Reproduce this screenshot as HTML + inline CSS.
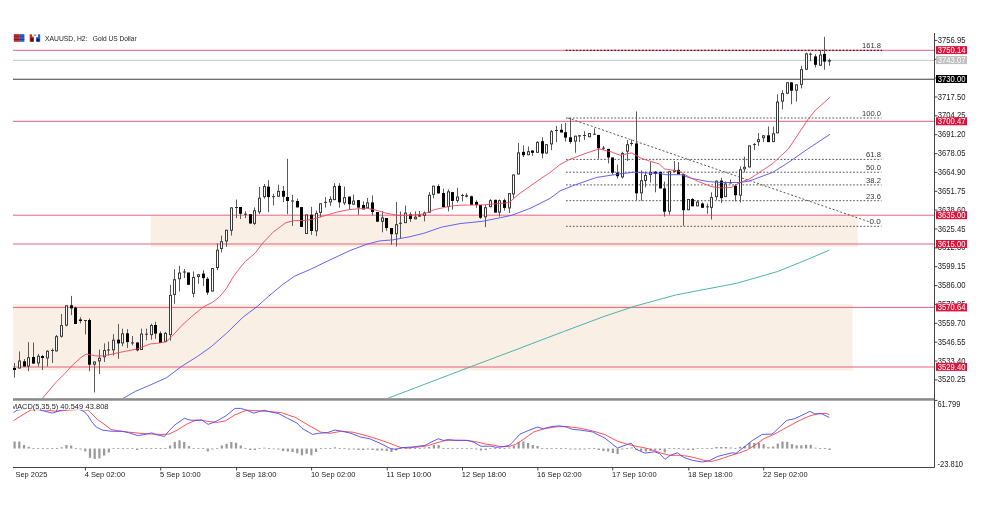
<!DOCTYPE html>
<html><head><meta charset="utf-8"><title>XAUUSD, H2</title>
<style>
html,body{margin:0;padding:0;background:#fff;}
body{width:982px;height:514px;overflow:hidden;position:relative;}
svg{position:absolute;left:0;top:0;display:block;}
text{font-family:'Liberation Sans', Arial, sans-serif;}
</style></head><body>
<svg width="982" height="514" viewBox="0 0 982 514">
<rect x="0" y="0" width="982" height="514" fill="#ffffff"/>

<defs><clipPath id="main"><rect x="13" y="33" width="921.5" height="365"/></clipPath><clipPath id="macdl"><rect x="13" y="400" width="100" height="14"/></clipPath><clipPath id="macd"><rect x="13" y="401" width="921.5" height="66"/></clipPath></defs>
<g clip-path="url(#main)">
<rect x="150.8" y="215.7" width="706.8" height="31.4" fill="#f9efe5"/>
<rect x="13" y="304.2" width="839.6" height="66.3" fill="#f9efe5"/>
<line x1="13" y1="50.3" x2="934.5" y2="50.3" stroke="#e8607e" stroke-width="1" />
<line x1="13" y1="60.3" x2="934.5" y2="60.3" stroke="#c4c4c4" stroke-width="1" />
<line x1="13" y1="79.3" x2="934.5" y2="79.3" stroke="#3c3c3c" stroke-width="1.1" />
<line x1="13" y1="121.3" x2="934.5" y2="121.3" stroke="#e8607e" stroke-width="1" />
<line x1="13" y1="215.2" x2="934.5" y2="215.2" stroke="#e8607e" stroke-width="1" />
<line x1="13" y1="244.0" x2="934.5" y2="244.0" stroke="#e8607e" stroke-width="1" />
<line x1="13" y1="307.4" x2="934.5" y2="307.4" stroke="#e8607e" stroke-width="1" />
<line x1="13" y1="367.0" x2="934.5" y2="367.0" stroke="#e8607e" stroke-width="1" />
<line x1="565.8" y1="50.4" x2="882.0" y2="50.4" stroke="#6a0a25" stroke-width="1.3" stroke-dasharray="1.7,1.76"/>
<text x="862.00" y="48.40" font-size="7.3" fill="#333" textLength="18.90" lengthAdjust="spacingAndGlyphs" >161.8</text>
<line x1="566.0" y1="118.0" x2="881.5" y2="118.0" stroke="#555" stroke-width="1" stroke-dasharray="1.7,1.76"/>
<text x="862.00" y="116.00" font-size="7.3" fill="#333" textLength="18.90" lengthAdjust="spacingAndGlyphs" >100.0</text>
<line x1="566.0" y1="159.4" x2="881.5" y2="159.4" stroke="#555" stroke-width="1" stroke-dasharray="1.7,1.76"/>
<text x="866.10" y="157.37" font-size="7.3" fill="#333" textLength="14.80" lengthAdjust="spacingAndGlyphs" >61.8</text>
<line x1="566.0" y1="172.2" x2="881.5" y2="172.2" stroke="#555" stroke-width="1" stroke-dasharray="1.7,1.76"/>
<text x="866.10" y="170.15" font-size="7.3" fill="#333" textLength="14.80" lengthAdjust="spacingAndGlyphs" >50.0</text>
<line x1="566.0" y1="184.9" x2="881.5" y2="184.9" stroke="#555" stroke-width="1" stroke-dasharray="1.7,1.76"/>
<text x="866.10" y="182.93" font-size="7.3" fill="#333" textLength="14.80" lengthAdjust="spacingAndGlyphs" >38.2</text>
<line x1="566.0" y1="200.7" x2="881.5" y2="200.7" stroke="#555" stroke-width="1" stroke-dasharray="1.7,1.76"/>
<text x="866.10" y="198.74" font-size="7.3" fill="#333" textLength="14.80" lengthAdjust="spacingAndGlyphs" >23.6</text>
<line x1="566.0" y1="226.3" x2="881.5" y2="226.3" stroke="#555" stroke-width="1" stroke-dasharray="1.7,1.76"/>
<text x="869.60" y="224.30" font-size="7.3" fill="#333" textLength="11.30" lengthAdjust="spacingAndGlyphs" >0.0</text>
<line x1="568" y1="118" x2="868.5" y2="221.6" stroke="#555" stroke-width="1" stroke-dasharray="2,2"/>
<rect x="14" y="363.00" width="1" height="14.60" fill="#5a5a5a"/>
<rect x="13" y="368.00" width="3" height="2.00" fill="#000"/>
<rect x="19" y="351.40" width="1" height="17.10" fill="#5a5a5a"/>
<rect x="18" y="360.50" width="3" height="8.00" fill="#3a3a3a"/>
<rect x="19" y="361.50" width="1" height="6.00" fill="#fff"/>
<rect x="24" y="359.00" width="1" height="7.50" fill="#5a5a5a"/>
<rect x="23" y="361.30" width="3" height="5.20" fill="#000"/>
<rect x="28" y="342.20" width="1" height="29.00" fill="#5a5a5a"/>
<rect x="27" y="357.20" width="3" height="9.30" fill="#3a3a3a"/>
<rect x="28" y="358.20" width="1" height="7.30" fill="#fff"/>
<rect x="33" y="342.60" width="1" height="21.00" fill="#5a5a5a"/>
<rect x="32" y="357.00" width="3" height="6.60" fill="#000"/>
<rect x="38" y="353.90" width="1" height="12.60" fill="#5a5a5a"/>
<rect x="37" y="355.80" width="3" height="7.60" fill="#3a3a3a"/>
<rect x="38" y="356.80" width="1" height="5.60" fill="#fff"/>
<rect x="42" y="354.90" width="1" height="15.10" fill="#5a5a5a"/>
<rect x="41" y="356.00" width="3" height="2.00" fill="#000"/>
<rect x="47" y="350.20" width="1" height="16.30" fill="#5a5a5a"/>
<rect x="46" y="350.80" width="3" height="7.60" fill="#3a3a3a"/>
<rect x="47" y="351.80" width="1" height="5.60" fill="#fff"/>
<rect x="52" y="348.40" width="1" height="14.60" fill="#5a5a5a"/>
<rect x="51" y="350.00" width="3" height="1" fill="#333"/>
<rect x="56" y="335.00" width="1" height="16.40" fill="#5a5a5a"/>
<rect x="55" y="336.20" width="3" height="15.20" fill="#3a3a3a"/>
<rect x="56" y="337.20" width="1" height="13.20" fill="#fff"/>
<rect x="61" y="314.00" width="1" height="23.60" fill="#5a5a5a"/>
<rect x="60" y="325.10" width="3" height="11.60" fill="#3a3a3a"/>
<rect x="61" y="326.10" width="1" height="9.60" fill="#fff"/>
<rect x="66" y="305.30" width="1" height="21.10" fill="#5a5a5a"/>
<rect x="65" y="305.30" width="3" height="20.30" fill="#3a3a3a"/>
<rect x="66" y="306.30" width="1" height="18.30" fill="#fff"/>
<rect x="71" y="295.90" width="1" height="19.20" fill="#5a5a5a"/>
<rect x="70" y="305.30" width="3" height="3.10" fill="#000"/>
<rect x="75" y="306.60" width="1" height="17.40" fill="#5a5a5a"/>
<rect x="74" y="307.60" width="3" height="16.40" fill="#000"/>
<rect x="80" y="317.30" width="1" height="6.10" fill="#5a5a5a"/>
<rect x="79" y="319.50" width="3" height="1.50" fill="#000"/>
<rect x="85" y="320.00" width="1" height="14.40" fill="#5a5a5a"/>
<rect x="84" y="320.00" width="3" height="1" fill="#333"/>
<rect x="89" y="318.50" width="1" height="52.70" fill="#5a5a5a"/>
<rect x="88" y="320.00" width="3" height="44.70" fill="#000"/>
<rect x="94" y="361.50" width="1" height="30.90" fill="#5a5a5a"/>
<rect x="93" y="361.50" width="3" height="3.20" fill="#3a3a3a"/>
<rect x="94" y="362.50" width="1" height="1.20" fill="#fff"/>
<rect x="99" y="349.50" width="1" height="24.50" fill="#5a5a5a"/>
<rect x="98" y="357.70" width="3" height="3.70" fill="#3a3a3a"/>
<rect x="99" y="358.70" width="1" height="1.70" fill="#fff"/>
<rect x="104" y="343.40" width="1" height="18.60" fill="#5a5a5a"/>
<rect x="103" y="350.00" width="3" height="7.30" fill="#3a3a3a"/>
<rect x="104" y="351.00" width="1" height="5.30" fill="#fff"/>
<rect x="108" y="341.60" width="1" height="13.90" fill="#5a5a5a"/>
<rect x="107" y="349.50" width="3" height="1" fill="#333"/>
<rect x="113" y="334.20" width="1" height="21.30" fill="#5a5a5a"/>
<rect x="112" y="339.70" width="3" height="10.60" fill="#3a3a3a"/>
<rect x="113" y="340.70" width="1" height="8.60" fill="#fff"/>
<rect x="118" y="324.00" width="1" height="34.80" fill="#5a5a5a"/>
<rect x="117" y="339.70" width="3" height="3.70" fill="#000"/>
<rect x="122" y="328.60" width="1" height="17.60" fill="#5a5a5a"/>
<rect x="121" y="333.30" width="3" height="10.10" fill="#3a3a3a"/>
<rect x="122" y="334.30" width="1" height="8.10" fill="#fff"/>
<rect x="127" y="329.20" width="1" height="18.80" fill="#5a5a5a"/>
<rect x="126" y="333.30" width="3" height="8.80" fill="#000"/>
<rect x="132" y="336.00" width="1" height="9.30" fill="#5a5a5a"/>
<rect x="131" y="342.40" width="3" height="1" fill="#333"/>
<rect x="137" y="342.50" width="1" height="8.90" fill="#5a5a5a"/>
<rect x="136" y="342.50" width="3" height="7.80" fill="#000"/>
<rect x="141" y="328.60" width="1" height="21.40" fill="#5a5a5a"/>
<rect x="140" y="333.60" width="3" height="16.40" fill="#3a3a3a"/>
<rect x="141" y="334.60" width="1" height="14.40" fill="#fff"/>
<rect x="146" y="328.60" width="1" height="11.70" fill="#5a5a5a"/>
<rect x="145" y="333.70" width="3" height="1" fill="#333"/>
<rect x="151" y="323.70" width="1" height="16.00" fill="#5a5a5a"/>
<rect x="150" y="325.00" width="3" height="10.10" fill="#3a3a3a"/>
<rect x="151" y="326.00" width="1" height="8.10" fill="#fff"/>
<rect x="155" y="321.80" width="1" height="17.00" fill="#5a5a5a"/>
<rect x="154" y="325.00" width="3" height="8.60" fill="#000"/>
<rect x="160" y="331.40" width="1" height="11.50" fill="#5a5a5a"/>
<rect x="159" y="333.30" width="3" height="9.60" fill="#000"/>
<rect x="165" y="331.80" width="1" height="10.10" fill="#5a5a5a"/>
<rect x="164" y="332.90" width="3" height="9.00" fill="#3a3a3a"/>
<rect x="165" y="333.90" width="1" height="7.00" fill="#fff"/>
<rect x="170" y="284.80" width="1" height="55.90" fill="#5a5a5a"/>
<rect x="169" y="294.90" width="3" height="40.20" fill="#3a3a3a"/>
<rect x="170" y="295.90" width="1" height="38.20" fill="#fff"/>
<rect x="174" y="269.10" width="1" height="34.70" fill="#5a5a5a"/>
<rect x="173" y="279.20" width="3" height="15.70" fill="#3a3a3a"/>
<rect x="174" y="280.20" width="1" height="13.70" fill="#fff"/>
<rect x="179" y="265.80" width="1" height="25.70" fill="#5a5a5a"/>
<rect x="178" y="272.50" width="3" height="6.70" fill="#3a3a3a"/>
<rect x="179" y="273.50" width="1" height="4.70" fill="#fff"/>
<rect x="184" y="269.00" width="1" height="9.00" fill="#5a5a5a"/>
<rect x="183" y="271.50" width="3" height="1" fill="#333"/>
<rect x="188" y="272.50" width="1" height="12.30" fill="#5a5a5a"/>
<rect x="187" y="272.50" width="3" height="12.30" fill="#000"/>
<rect x="193" y="271.40" width="1" height="25.70" fill="#5a5a5a"/>
<rect x="192" y="277.00" width="3" height="16.80" fill="#3a3a3a"/>
<rect x="193" y="278.00" width="1" height="14.80" fill="#fff"/>
<rect x="198" y="274.00" width="1" height="9.70" fill="#5a5a5a"/>
<rect x="197" y="274.30" width="3" height="2.70" fill="#3a3a3a"/>
<rect x="198" y="275.30" width="1" height="0.70" fill="#fff"/>
<rect x="203" y="270.30" width="1" height="15.60" fill="#5a5a5a"/>
<rect x="202" y="273.60" width="3" height="4.50" fill="#000"/>
<rect x="207" y="277.00" width="1" height="17.90" fill="#5a5a5a"/>
<rect x="206" y="278.80" width="3" height="13.80" fill="#000"/>
<rect x="212" y="268.00" width="1" height="23.50" fill="#5a5a5a"/>
<rect x="211" y="268.00" width="3" height="23.50" fill="#3a3a3a"/>
<rect x="212" y="269.00" width="1" height="21.50" fill="#fff"/>
<rect x="217" y="243.40" width="1" height="26.90" fill="#5a5a5a"/>
<rect x="216" y="249.70" width="3" height="18.30" fill="#3a3a3a"/>
<rect x="217" y="250.70" width="1" height="16.30" fill="#fff"/>
<rect x="221" y="235.60" width="1" height="16.80" fill="#5a5a5a"/>
<rect x="220" y="241.20" width="3" height="7.80" fill="#3a3a3a"/>
<rect x="221" y="242.20" width="1" height="5.80" fill="#fff"/>
<rect x="226" y="229.80" width="1" height="17.00" fill="#5a5a5a"/>
<rect x="225" y="229.80" width="3" height="11.60" fill="#3a3a3a"/>
<rect x="226" y="230.80" width="1" height="9.60" fill="#fff"/>
<rect x="231" y="207.40" width="1" height="28.20" fill="#5a5a5a"/>
<rect x="230" y="207.40" width="3" height="23.30" fill="#3a3a3a"/>
<rect x="231" y="208.40" width="1" height="21.30" fill="#fff"/>
<rect x="236" y="199.60" width="1" height="18.50" fill="#5a5a5a"/>
<rect x="235" y="207.00" width="3" height="1" fill="#333"/>
<rect x="240" y="207.00" width="1" height="12.00" fill="#5a5a5a"/>
<rect x="239" y="207.00" width="3" height="6.80" fill="#000"/>
<rect x="245" y="211.30" width="1" height="6.80" fill="#5a5a5a"/>
<rect x="244" y="213.70" width="3" height="1" fill="#333"/>
<rect x="250" y="214.20" width="1" height="9.30" fill="#5a5a5a"/>
<rect x="249" y="214.20" width="3" height="9.30" fill="#000"/>
<rect x="254" y="207.40" width="1" height="17.60" fill="#5a5a5a"/>
<rect x="253" y="210.30" width="3" height="13.60" fill="#3a3a3a"/>
<rect x="254" y="211.30" width="1" height="11.60" fill="#fff"/>
<rect x="259" y="187.00" width="1" height="27.00" fill="#5a5a5a"/>
<rect x="258" y="197.70" width="3" height="14.60" fill="#3a3a3a"/>
<rect x="259" y="198.70" width="1" height="12.60" fill="#fff"/>
<rect x="264" y="184.00" width="1" height="14.60" fill="#5a5a5a"/>
<rect x="263" y="186.00" width="3" height="11.10" fill="#3a3a3a"/>
<rect x="264" y="187.00" width="1" height="9.10" fill="#fff"/>
<rect x="268" y="180.20" width="1" height="32.10" fill="#5a5a5a"/>
<rect x="267" y="186.60" width="3" height="10.50" fill="#000"/>
<rect x="273" y="193.80" width="1" height="11.60" fill="#5a5a5a"/>
<rect x="272" y="196.20" width="3" height="1" fill="#333"/>
<rect x="278" y="184.60" width="1" height="12.10" fill="#5a5a5a"/>
<rect x="277" y="190.90" width="3" height="5.80" fill="#3a3a3a"/>
<rect x="278" y="191.90" width="1" height="3.80" fill="#fff"/>
<rect x="283" y="186.00" width="1" height="16.10" fill="#5a5a5a"/>
<rect x="282" y="190.90" width="3" height="5.80" fill="#000"/>
<rect x="287" y="158.80" width="1" height="55.40" fill="#5a5a5a"/>
<rect x="286" y="197.00" width="3" height="4.00" fill="#000"/>
<rect x="292" y="194.70" width="1" height="31.20" fill="#5a5a5a"/>
<rect x="291" y="200.50" width="3" height="1" fill="#333"/>
<rect x="297" y="198.60" width="1" height="8.80" fill="#5a5a5a"/>
<rect x="296" y="201.00" width="3" height="6.40" fill="#000"/>
<rect x="301" y="207.10" width="1" height="19.80" fill="#5a5a5a"/>
<rect x="300" y="207.10" width="3" height="19.80" fill="#000"/>
<rect x="306" y="214.50" width="1" height="19.50" fill="#5a5a5a"/>
<rect x="305" y="214.50" width="3" height="19.50" fill="#3a3a3a"/>
<rect x="306" y="215.50" width="1" height="17.50" fill="#fff"/>
<rect x="311" y="206.80" width="1" height="28.00" fill="#5a5a5a"/>
<rect x="310" y="214.70" width="3" height="16.30" fill="#000"/>
<rect x="316" y="210.60" width="1" height="25.60" fill="#5a5a5a"/>
<rect x="315" y="212.90" width="3" height="18.40" fill="#3a3a3a"/>
<rect x="316" y="213.90" width="1" height="16.40" fill="#fff"/>
<rect x="320" y="203.30" width="1" height="14.00" fill="#5a5a5a"/>
<rect x="319" y="203.30" width="3" height="9.60" fill="#3a3a3a"/>
<rect x="320" y="204.30" width="1" height="7.60" fill="#fff"/>
<rect x="325" y="197.10" width="1" height="10.50" fill="#5a5a5a"/>
<rect x="324" y="201.90" width="3" height="1" fill="#333"/>
<rect x="330" y="196.30" width="1" height="9.60" fill="#5a5a5a"/>
<rect x="329" y="198.90" width="3" height="3.50" fill="#3a3a3a"/>
<rect x="330" y="199.90" width="1" height="1.50" fill="#fff"/>
<rect x="334" y="183.10" width="1" height="17.00" fill="#5a5a5a"/>
<rect x="333" y="186.10" width="3" height="14.00" fill="#3a3a3a"/>
<rect x="334" y="187.10" width="1" height="12.00" fill="#fff"/>
<rect x="339" y="183.10" width="1" height="24.50" fill="#5a5a5a"/>
<rect x="338" y="185.80" width="3" height="16.60" fill="#000"/>
<rect x="344" y="186.60" width="1" height="18.40" fill="#5a5a5a"/>
<rect x="343" y="197.10" width="3" height="6.20" fill="#3a3a3a"/>
<rect x="344" y="198.10" width="1" height="4.20" fill="#fff"/>
<rect x="349" y="196.60" width="1" height="12.80" fill="#5a5a5a"/>
<rect x="348" y="196.60" width="3" height="7.60" fill="#000"/>
<rect x="353" y="194.50" width="1" height="10.20" fill="#5a5a5a"/>
<rect x="352" y="200.60" width="3" height="4.10" fill="#3a3a3a"/>
<rect x="353" y="201.60" width="1" height="2.10" fill="#fff"/>
<rect x="358" y="200.10" width="1" height="14.60" fill="#5a5a5a"/>
<rect x="357" y="200.10" width="3" height="7.50" fill="#000"/>
<rect x="363" y="201.50" width="1" height="7.90" fill="#5a5a5a"/>
<rect x="362" y="205.00" width="3" height="4.40" fill="#000"/>
<rect x="367" y="198.00" width="1" height="10.20" fill="#5a5a5a"/>
<rect x="366" y="202.40" width="3" height="5.80" fill="#3a3a3a"/>
<rect x="367" y="203.40" width="1" height="3.80" fill="#fff"/>
<rect x="372" y="195.40" width="1" height="20.10" fill="#5a5a5a"/>
<rect x="371" y="202.40" width="3" height="9.60" fill="#000"/>
<rect x="377" y="212.00" width="1" height="9.70" fill="#5a5a5a"/>
<rect x="376" y="212.00" width="3" height="9.70" fill="#000"/>
<rect x="382" y="211.40" width="1" height="20.90" fill="#5a5a5a"/>
<rect x="381" y="217.40" width="3" height="4.40" fill="#3a3a3a"/>
<rect x="382" y="218.40" width="1" height="2.40" fill="#fff"/>
<rect x="386" y="218.00" width="1" height="12.70" fill="#5a5a5a"/>
<rect x="385" y="218.00" width="3" height="10.00" fill="#000"/>
<rect x="391" y="228.00" width="1" height="16.70" fill="#5a5a5a"/>
<rect x="390" y="228.00" width="3" height="6.20" fill="#000"/>
<rect x="396" y="202.10" width="1" height="44.30" fill="#5a5a5a"/>
<rect x="395" y="224.20" width="3" height="10.00" fill="#3a3a3a"/>
<rect x="396" y="225.20" width="1" height="8.00" fill="#fff"/>
<rect x="400" y="211.40" width="1" height="27.20" fill="#5a5a5a"/>
<rect x="399" y="222.80" width="3" height="1" fill="#333"/>
<rect x="405" y="205.60" width="1" height="17.50" fill="#5a5a5a"/>
<rect x="404" y="212.60" width="3" height="10.50" fill="#3a3a3a"/>
<rect x="405" y="213.60" width="1" height="8.50" fill="#fff"/>
<rect x="410" y="212.30" width="1" height="9.60" fill="#5a5a5a"/>
<rect x="409" y="214.40" width="3" height="4.60" fill="#000"/>
<rect x="415" y="211.40" width="1" height="7.90" fill="#5a5a5a"/>
<rect x="414" y="216.70" width="3" height="2.60" fill="#3a3a3a"/>
<rect x="415" y="217.70" width="1" height="0.60" fill="#fff"/>
<rect x="419" y="210.90" width="1" height="5.60" fill="#5a5a5a"/>
<rect x="418" y="215.50" width="3" height="1.00" fill="#000"/>
<rect x="424" y="211.40" width="1" height="10.00" fill="#5a5a5a"/>
<rect x="423" y="212.60" width="3" height="3.20" fill="#3a3a3a"/>
<rect x="424" y="213.60" width="1" height="1.20" fill="#fff"/>
<rect x="429" y="192.10" width="1" height="20.50" fill="#5a5a5a"/>
<rect x="428" y="194.80" width="3" height="17.80" fill="#3a3a3a"/>
<rect x="429" y="195.80" width="1" height="15.80" fill="#fff"/>
<rect x="433" y="185.70" width="1" height="12.60" fill="#5a5a5a"/>
<rect x="432" y="185.70" width="3" height="9.10" fill="#3a3a3a"/>
<rect x="433" y="186.70" width="1" height="7.10" fill="#fff"/>
<rect x="438" y="184.30" width="1" height="9.10" fill="#5a5a5a"/>
<rect x="437" y="186.00" width="3" height="7.40" fill="#000"/>
<rect x="443" y="188.60" width="1" height="18.40" fill="#5a5a5a"/>
<rect x="442" y="193.00" width="3" height="14.00" fill="#000"/>
<rect x="448" y="189.50" width="1" height="21.90" fill="#5a5a5a"/>
<rect x="447" y="191.30" width="3" height="15.70" fill="#3a3a3a"/>
<rect x="448" y="192.30" width="1" height="13.70" fill="#fff"/>
<rect x="452" y="192.10" width="1" height="17.60" fill="#5a5a5a"/>
<rect x="451" y="192.10" width="3" height="8.80" fill="#000"/>
<rect x="457" y="187.80" width="1" height="14.80" fill="#5a5a5a"/>
<rect x="456" y="196.50" width="3" height="4.40" fill="#3a3a3a"/>
<rect x="457" y="197.50" width="1" height="2.40" fill="#fff"/>
<rect x="462" y="193.80" width="1" height="7.60" fill="#5a5a5a"/>
<rect x="461" y="195.00" width="3" height="1" fill="#333"/>
<rect x="466" y="193.20" width="1" height="4.20" fill="#5a5a5a"/>
<rect x="465" y="195.50" width="3" height="1.00" fill="#000"/>
<rect x="471" y="195.60" width="1" height="9.30" fill="#5a5a5a"/>
<rect x="470" y="196.30" width="3" height="8.60" fill="#000"/>
<rect x="476" y="200.20" width="1" height="7.70" fill="#5a5a5a"/>
<rect x="475" y="201.90" width="3" height="3.00" fill="#000"/>
<rect x="480" y="204.90" width="1" height="14.00" fill="#5a5a5a"/>
<rect x="479" y="204.90" width="3" height="12.80" fill="#000"/>
<rect x="485" y="205.00" width="1" height="22.10" fill="#5a5a5a"/>
<rect x="484" y="207.20" width="3" height="10.10" fill="#3a3a3a"/>
<rect x="485" y="208.20" width="1" height="8.10" fill="#fff"/>
<rect x="490" y="199.10" width="1" height="8.10" fill="#5a5a5a"/>
<rect x="489" y="200.20" width="3" height="7.00" fill="#3a3a3a"/>
<rect x="490" y="201.20" width="1" height="5.00" fill="#fff"/>
<rect x="495" y="199.80" width="1" height="12.80" fill="#5a5a5a"/>
<rect x="494" y="199.80" width="3" height="12.80" fill="#000"/>
<rect x="499" y="199.50" width="1" height="17.10" fill="#5a5a5a"/>
<rect x="498" y="200.20" width="3" height="12.40" fill="#3a3a3a"/>
<rect x="499" y="201.20" width="1" height="10.40" fill="#fff"/>
<rect x="504" y="198.60" width="1" height="12.10" fill="#5a5a5a"/>
<rect x="503" y="200.20" width="3" height="7.70" fill="#000"/>
<rect x="509" y="193.20" width="1" height="19.80" fill="#5a5a5a"/>
<rect x="508" y="193.20" width="3" height="15.20" fill="#3a3a3a"/>
<rect x="509" y="194.20" width="1" height="13.20" fill="#fff"/>
<rect x="513" y="174.50" width="1" height="24.10" fill="#5a5a5a"/>
<rect x="512" y="174.50" width="3" height="19.90" fill="#3a3a3a"/>
<rect x="513" y="175.50" width="1" height="17.90" fill="#fff"/>
<rect x="518" y="143.00" width="1" height="31.50" fill="#5a5a5a"/>
<rect x="517" y="152.40" width="3" height="22.10" fill="#3a3a3a"/>
<rect x="518" y="153.40" width="1" height="20.10" fill="#fff"/>
<rect x="523" y="145.40" width="1" height="11.60" fill="#5a5a5a"/>
<rect x="522" y="151.90" width="3" height="3.30" fill="#000"/>
<rect x="528" y="146.50" width="1" height="8.70" fill="#5a5a5a"/>
<rect x="527" y="151.20" width="3" height="4.00" fill="#3a3a3a"/>
<rect x="528" y="152.20" width="1" height="2.00" fill="#fff"/>
<rect x="532" y="150.50" width="1" height="5.40" fill="#5a5a5a"/>
<rect x="531" y="150.50" width="3" height="2.30" fill="#000"/>
<rect x="537" y="141.20" width="1" height="11.60" fill="#5a5a5a"/>
<rect x="536" y="141.90" width="3" height="10.90" fill="#3a3a3a"/>
<rect x="537" y="142.90" width="1" height="8.90" fill="#fff"/>
<rect x="542" y="137.20" width="1" height="21.00" fill="#5a5a5a"/>
<rect x="541" y="141.20" width="3" height="12.30" fill="#000"/>
<rect x="546" y="144.20" width="1" height="9.30" fill="#5a5a5a"/>
<rect x="545" y="144.20" width="3" height="9.30" fill="#3a3a3a"/>
<rect x="546" y="145.20" width="1" height="7.30" fill="#fff"/>
<rect x="551" y="130.00" width="1" height="20.10" fill="#5a5a5a"/>
<rect x="550" y="131.20" width="3" height="13.20" fill="#3a3a3a"/>
<rect x="551" y="132.20" width="1" height="11.20" fill="#fff"/>
<rect x="556" y="126.00" width="1" height="16.10" fill="#5a5a5a"/>
<rect x="555" y="130.00" width="3" height="1" fill="#333"/>
<rect x="561" y="123.90" width="1" height="8.60" fill="#5a5a5a"/>
<rect x="560" y="129.80" width="3" height="2.70" fill="#000"/>
<rect x="565" y="122.80" width="1" height="18.80" fill="#5a5a5a"/>
<rect x="564" y="132.20" width="3" height="5.40" fill="#000"/>
<rect x="570" y="118.00" width="1" height="25.70" fill="#5a5a5a"/>
<rect x="569" y="137.30" width="3" height="4.60" fill="#000"/>
<rect x="575" y="135.70" width="1" height="17.10" fill="#5a5a5a"/>
<rect x="574" y="135.70" width="3" height="5.90" fill="#3a3a3a"/>
<rect x="575" y="136.70" width="1" height="3.90" fill="#fff"/>
<rect x="579" y="135.20" width="1" height="6.90" fill="#5a5a5a"/>
<rect x="578" y="135.20" width="3" height="1.30" fill="#3a3a3a"/>
<rect x="584" y="131.20" width="1" height="8.80" fill="#5a5a5a"/>
<rect x="583" y="135.00" width="3" height="1" fill="#333"/>
<rect x="589" y="133.00" width="1" height="4.20" fill="#5a5a5a"/>
<rect x="588" y="133.00" width="3" height="4.20" fill="#3a3a3a"/>
<rect x="589" y="134.00" width="1" height="2.20" fill="#fff"/>
<rect x="594" y="128.30" width="1" height="6.40" fill="#5a5a5a"/>
<rect x="593" y="133.70" width="3" height="1" fill="#333"/>
<rect x="598" y="134.90" width="1" height="23.80" fill="#5a5a5a"/>
<rect x="597" y="134.90" width="3" height="13.30" fill="#000"/>
<rect x="603" y="146.00" width="1" height="4.00" fill="#5a5a5a"/>
<rect x="602" y="147.70" width="3" height="1" fill="#333"/>
<rect x="608" y="148.90" width="1" height="14.50" fill="#5a5a5a"/>
<rect x="607" y="148.90" width="3" height="8.60" fill="#000"/>
<rect x="612" y="157.50" width="1" height="17.10" fill="#5a5a5a"/>
<rect x="611" y="157.50" width="3" height="15.20" fill="#000"/>
<rect x="617" y="164.50" width="1" height="14.00" fill="#5a5a5a"/>
<rect x="616" y="172.70" width="3" height="3.50" fill="#000"/>
<rect x="622" y="151.70" width="1" height="26.80" fill="#5a5a5a"/>
<rect x="621" y="152.90" width="3" height="24.50" fill="#3a3a3a"/>
<rect x="622" y="153.90" width="1" height="22.50" fill="#fff"/>
<rect x="627" y="140.00" width="1" height="21.00" fill="#5a5a5a"/>
<rect x="626" y="144.20" width="3" height="7.50" fill="#3a3a3a"/>
<rect x="627" y="145.20" width="1" height="5.50" fill="#fff"/>
<rect x="631" y="139.60" width="1" height="6.20" fill="#5a5a5a"/>
<rect x="630" y="143.00" width="3" height="1" fill="#333"/>
<rect x="636" y="111.50" width="1" height="88.80" fill="#5a5a5a"/>
<rect x="635" y="143.50" width="3" height="49.80" fill="#000"/>
<rect x="641" y="170.40" width="1" height="30.30" fill="#5a5a5a"/>
<rect x="640" y="180.20" width="3" height="13.10" fill="#3a3a3a"/>
<rect x="641" y="181.20" width="1" height="11.10" fill="#fff"/>
<rect x="645" y="171.50" width="1" height="15.90" fill="#5a5a5a"/>
<rect x="644" y="175.00" width="3" height="5.90" fill="#3a3a3a"/>
<rect x="645" y="176.00" width="1" height="3.90" fill="#fff"/>
<rect x="650" y="162.10" width="1" height="20.40" fill="#5a5a5a"/>
<rect x="649" y="171.80" width="3" height="3.30" fill="#3a3a3a"/>
<rect x="650" y="172.80" width="1" height="1.30" fill="#fff"/>
<rect x="655" y="171.00" width="1" height="21.30" fill="#5a5a5a"/>
<rect x="654" y="171.80" width="3" height="2.00" fill="#000"/>
<rect x="660" y="171.80" width="1" height="16.60" fill="#5a5a5a"/>
<rect x="659" y="171.80" width="3" height="16.60" fill="#000"/>
<rect x="664" y="181.60" width="1" height="35.00" fill="#5a5a5a"/>
<rect x="663" y="188.40" width="3" height="23.30" fill="#000"/>
<rect x="669" y="171.20" width="1" height="43.40" fill="#5a5a5a"/>
<rect x="668" y="171.20" width="3" height="40.50" fill="#3a3a3a"/>
<rect x="669" y="172.20" width="1" height="38.50" fill="#fff"/>
<rect x="674" y="161.10" width="1" height="10.70" fill="#5a5a5a"/>
<rect x="673" y="169.90" width="3" height="1.90" fill="#3a3a3a"/>
<rect x="678" y="162.10" width="1" height="12.30" fill="#5a5a5a"/>
<rect x="677" y="169.90" width="3" height="4.50" fill="#000"/>
<rect x="683" y="174.40" width="1" height="51.30" fill="#5a5a5a"/>
<rect x="682" y="174.40" width="3" height="35.80" fill="#000"/>
<rect x="688" y="199.00" width="1" height="11.20" fill="#5a5a5a"/>
<rect x="687" y="199.00" width="3" height="11.20" fill="#3a3a3a"/>
<rect x="688" y="200.00" width="1" height="9.20" fill="#fff"/>
<rect x="692" y="198.00" width="1" height="8.30" fill="#5a5a5a"/>
<rect x="691" y="199.00" width="3" height="7.30" fill="#000"/>
<rect x="697" y="200.00" width="1" height="6.30" fill="#5a5a5a"/>
<rect x="696" y="201.60" width="3" height="4.70" fill="#3a3a3a"/>
<rect x="697" y="202.60" width="1" height="2.70" fill="#fff"/>
<rect x="702" y="202.40" width="1" height="5.40" fill="#5a5a5a"/>
<rect x="701" y="203.50" width="3" height="4.30" fill="#000"/>
<rect x="707" y="203.50" width="1" height="10.20" fill="#5a5a5a"/>
<rect x="706" y="206.30" width="3" height="1" fill="#333"/>
<rect x="711" y="192.30" width="1" height="27.20" fill="#5a5a5a"/>
<rect x="710" y="197.10" width="3" height="10.70" fill="#3a3a3a"/>
<rect x="711" y="198.10" width="1" height="8.70" fill="#fff"/>
<rect x="716" y="180.60" width="1" height="19.40" fill="#5a5a5a"/>
<rect x="715" y="180.60" width="3" height="16.50" fill="#3a3a3a"/>
<rect x="716" y="181.60" width="1" height="14.50" fill="#fff"/>
<rect x="721" y="177.70" width="1" height="25.30" fill="#5a5a5a"/>
<rect x="720" y="180.60" width="3" height="17.50" fill="#000"/>
<rect x="725" y="181.50" width="1" height="15.60" fill="#5a5a5a"/>
<rect x="724" y="183.50" width="3" height="13.60" fill="#3a3a3a"/>
<rect x="725" y="184.50" width="1" height="11.60" fill="#fff"/>
<rect x="730" y="179.60" width="1" height="3.80" fill="#5a5a5a"/>
<rect x="729" y="182.40" width="3" height="1" fill="#333"/>
<rect x="735" y="184.00" width="1" height="17.40" fill="#5a5a5a"/>
<rect x="734" y="185.90" width="3" height="9.30" fill="#000"/>
<rect x="740" y="166.40" width="1" height="36.00" fill="#5a5a5a"/>
<rect x="739" y="169.30" width="3" height="26.30" fill="#3a3a3a"/>
<rect x="740" y="170.30" width="1" height="24.30" fill="#fff"/>
<rect x="744" y="156.70" width="1" height="15.60" fill="#5a5a5a"/>
<rect x="743" y="166.80" width="3" height="2.50" fill="#3a3a3a"/>
<rect x="744" y="167.80" width="1" height="0.50" fill="#fff"/>
<rect x="749" y="145.40" width="1" height="22.00" fill="#5a5a5a"/>
<rect x="748" y="145.40" width="3" height="22.00" fill="#3a3a3a"/>
<rect x="749" y="146.40" width="1" height="20.00" fill="#fff"/>
<rect x="754" y="143.00" width="1" height="6.90" fill="#5a5a5a"/>
<rect x="753" y="144.10" width="3" height="1" fill="#333"/>
<rect x="758" y="133.00" width="1" height="13.00" fill="#5a5a5a"/>
<rect x="757" y="139.20" width="3" height="2.90" fill="#3a3a3a"/>
<rect x="758" y="140.20" width="1" height="0.90" fill="#fff"/>
<rect x="763" y="135.30" width="1" height="6.80" fill="#5a5a5a"/>
<rect x="762" y="135.30" width="3" height="2.90" fill="#3a3a3a"/>
<rect x="763" y="136.30" width="1" height="0.90" fill="#fff"/>
<rect x="768" y="126.50" width="1" height="15.60" fill="#5a5a5a"/>
<rect x="767" y="135.30" width="3" height="6.80" fill="#000"/>
<rect x="773" y="126.50" width="1" height="15.60" fill="#5a5a5a"/>
<rect x="772" y="133.30" width="3" height="8.80" fill="#3a3a3a"/>
<rect x="773" y="134.30" width="1" height="6.80" fill="#fff"/>
<rect x="777" y="94.20" width="1" height="39.10" fill="#5a5a5a"/>
<rect x="776" y="101.60" width="3" height="31.70" fill="#3a3a3a"/>
<rect x="777" y="102.60" width="1" height="29.70" fill="#fff"/>
<rect x="782" y="90.20" width="1" height="19.20" fill="#5a5a5a"/>
<rect x="781" y="93.10" width="3" height="8.50" fill="#3a3a3a"/>
<rect x="782" y="94.10" width="1" height="6.50" fill="#fff"/>
<rect x="787" y="82.30" width="1" height="11.40" fill="#5a5a5a"/>
<rect x="786" y="82.30" width="3" height="11.40" fill="#3a3a3a"/>
<rect x="787" y="83.30" width="1" height="9.40" fill="#fff"/>
<rect x="791" y="82.30" width="1" height="21.90" fill="#5a5a5a"/>
<rect x="790" y="82.30" width="3" height="8.40" fill="#000"/>
<rect x="796" y="84.40" width="1" height="17.20" fill="#5a5a5a"/>
<rect x="795" y="84.40" width="3" height="6.30" fill="#3a3a3a"/>
<rect x="796" y="85.40" width="1" height="4.30" fill="#fff"/>
<rect x="801" y="65.70" width="1" height="22.70" fill="#5a5a5a"/>
<rect x="800" y="69.20" width="3" height="15.70" fill="#3a3a3a"/>
<rect x="801" y="70.20" width="1" height="13.70" fill="#fff"/>
<rect x="806" y="52.50" width="1" height="17.20" fill="#5a5a5a"/>
<rect x="805" y="53.40" width="3" height="16.30" fill="#3a3a3a"/>
<rect x="806" y="54.40" width="1" height="14.30" fill="#fff"/>
<rect x="810" y="52.50" width="1" height="8.80" fill="#5a5a5a"/>
<rect x="809" y="53.80" width="3" height="1" fill="#333"/>
<rect x="815" y="54.30" width="1" height="13.10" fill="#5a5a5a"/>
<rect x="814" y="56.40" width="3" height="8.40" fill="#000"/>
<rect x="820" y="49.90" width="1" height="15.80" fill="#5a5a5a"/>
<rect x="819" y="54.60" width="3" height="11.10" fill="#3a3a3a"/>
<rect x="820" y="55.60" width="1" height="9.10" fill="#fff"/>
<rect x="824" y="36.80" width="1" height="32.90" fill="#5a5a5a"/>
<rect x="823" y="53.90" width="3" height="7.70" fill="#000"/>
<rect x="829" y="58.60" width="1" height="7.10" fill="#5a5a5a"/>
<rect x="828" y="60.00" width="3" height="1.60" fill="#3a3a3a"/>
<polyline points="386.3,398.9 471.8,366.3 512.6,351.0 563.5,331.6 604.2,316.4 634.8,306.2 675.5,295.0 736.6,283.3 777.3,271.6 802.8,261.4 829.3,250.2" fill="none" stroke="#3aaaa4" stroke-width="0.9" stroke-linejoin="round" />
<polyline points="121.7,399.2 135.3,391.4 148.9,385.6 166.4,377.8 182.0,366.1 197.5,356.4 211.2,346.7 226.7,333.1 243.1,317.1 257.1,306.6 268.8,296.1 282.8,284.4 294.5,276.2 310.8,269.2 329.8,260.0 349.9,250.6 367.0,244.2 379.8,240.9 392.7,239.9 410.0,236.7 423.8,233.3 441.3,227.2 460.0,223.6 483.3,221.2 511.4,215.4 530.0,208.4 550.0,198.4 560.0,190.9 573.3,185.5 596.7,177.4 620.0,173.9 634.0,172.2 650.0,173.2 659.5,173.2 665.3,174.7 680.9,174.7 690.6,178.2 708.1,181.6 721.7,182.5 740.0,182.5 749.5,181.0 772.8,172.3 788.4,162.5 807.8,148.9 830.0,134.3" fill="none" stroke="#5454f0" stroke-width="0.9" stroke-linejoin="round" />
<polyline points="42.6,398.2 55.3,383.0 65.4,372.9 73.0,364.7 80.6,357.8 86.3,354.0 95.7,355.9 103.3,355.9 110.0,354.6 118.3,352.7 137.0,349.0 150.7,343.8 156.7,343.4 166.4,341.8 172.3,336.0 182.0,325.3 191.7,316.5 203.2,307.0 212.7,302.2 219.5,296.8 226.3,288.6 233.1,277.0 238.6,269.5 245.4,261.3 255.1,253.2 262.0,244.0 272.8,232.4 285.6,222.8 294.2,220.6 302.8,220.6 311.3,219.6 326.3,215.3 337.0,212.0 349.9,209.5 367.0,208.2 375.5,210.0 386.3,213.2 397.0,215.3 410.0,215.3 423.8,214.0 434.3,209.7 450.0,206.2 460.0,205.2 483.3,204.9 509.0,202.6 518.4,194.4 541.7,178.0 550.0,172.6 560.0,164.5 568.7,159.9 585.0,153.6 599.0,148.9 610.7,151.7 620.0,155.2 631.7,152.9 641.0,158.2 649.7,161.1 659.5,164.0 664.3,168.9 678.9,171.2 688.6,176.7 698.4,181.6 712.0,186.8 721.7,188.0 731.4,187.4 740.0,182.5 749.5,179.0 772.8,163.5 788.4,148.9 807.8,119.7 815.6,110.0 830.0,97.2" fill="none" stroke="#f24660" stroke-width="0.9" stroke-linejoin="round" />
</g>
<rect x="13" y="398.2" width="921.5" height="2.5" fill="#8a8a8a"/>
<line x1="934.5" y1="33" x2="934.5" y2="467.5" stroke="#444" stroke-width="1"/>
<line x1="13" y1="467.5" x2="934.5" y2="467.5" stroke="#444" stroke-width="1"/>
<line x1="934.5" y1="40.4" x2="937.5" y2="40.4" stroke="#444" stroke-width="1"/>
<text x="937.80" y="43.00" font-size="8.2" fill="#222" textLength="27.60" lengthAdjust="spacingAndGlyphs" >3756.95</text>
<line x1="934.5" y1="59.3" x2="937.5" y2="59.3" stroke="#444" stroke-width="1"/>
<text x="937.80" y="61.86" font-size="8.2" fill="#222" textLength="27.60" lengthAdjust="spacingAndGlyphs" >3743.80</text>
<line x1="934.5" y1="78.1" x2="937.5" y2="78.1" stroke="#444" stroke-width="1"/>
<text x="937.80" y="80.72" font-size="8.2" fill="#222" textLength="27.60" lengthAdjust="spacingAndGlyphs" >3730.65</text>
<line x1="934.5" y1="97.0" x2="937.5" y2="97.0" stroke="#444" stroke-width="1"/>
<text x="937.80" y="99.58" font-size="8.2" fill="#222" textLength="27.60" lengthAdjust="spacingAndGlyphs" >3717.50</text>
<line x1="934.5" y1="115.8" x2="937.5" y2="115.8" stroke="#444" stroke-width="1"/>
<text x="937.80" y="118.44" font-size="8.2" fill="#222" textLength="27.60" lengthAdjust="spacingAndGlyphs" >3704.25</text>
<line x1="934.5" y1="134.7" x2="937.5" y2="134.7" stroke="#444" stroke-width="1"/>
<text x="937.80" y="137.30" font-size="8.2" fill="#222" textLength="27.60" lengthAdjust="spacingAndGlyphs" >3691.20</text>
<line x1="934.5" y1="153.6" x2="937.5" y2="153.6" stroke="#444" stroke-width="1"/>
<text x="937.80" y="156.16" font-size="8.2" fill="#222" textLength="27.60" lengthAdjust="spacingAndGlyphs" >3678.05</text>
<line x1="934.5" y1="172.4" x2="937.5" y2="172.4" stroke="#444" stroke-width="1"/>
<text x="937.80" y="175.02" font-size="8.2" fill="#222" textLength="27.60" lengthAdjust="spacingAndGlyphs" >3664.90</text>
<line x1="934.5" y1="191.3" x2="937.5" y2="191.3" stroke="#444" stroke-width="1"/>
<text x="937.80" y="193.88" font-size="8.2" fill="#222" textLength="27.60" lengthAdjust="spacingAndGlyphs" >3651.75</text>
<line x1="934.5" y1="210.1" x2="937.5" y2="210.1" stroke="#444" stroke-width="1"/>
<text x="937.80" y="212.74" font-size="8.2" fill="#222" textLength="27.60" lengthAdjust="spacingAndGlyphs" >3638.60</text>
<line x1="934.5" y1="229.0" x2="937.5" y2="229.0" stroke="#444" stroke-width="1"/>
<text x="937.80" y="231.60" font-size="8.2" fill="#222" textLength="27.60" lengthAdjust="spacingAndGlyphs" >3625.45</text>
<line x1="934.5" y1="247.9" x2="937.5" y2="247.9" stroke="#444" stroke-width="1"/>
<text x="937.80" y="250.46" font-size="8.2" fill="#222" textLength="27.60" lengthAdjust="spacingAndGlyphs" >3612.30</text>
<line x1="934.5" y1="266.7" x2="937.5" y2="266.7" stroke="#444" stroke-width="1"/>
<text x="937.80" y="269.32" font-size="8.2" fill="#222" textLength="27.60" lengthAdjust="spacingAndGlyphs" >3599.15</text>
<line x1="934.5" y1="285.6" x2="937.5" y2="285.6" stroke="#444" stroke-width="1"/>
<text x="937.80" y="288.18" font-size="8.2" fill="#222" textLength="27.60" lengthAdjust="spacingAndGlyphs" >3586.00</text>
<line x1="934.5" y1="304.4" x2="937.5" y2="304.4" stroke="#444" stroke-width="1"/>
<text x="937.80" y="307.04" font-size="8.2" fill="#222" textLength="27.60" lengthAdjust="spacingAndGlyphs" >3572.85</text>
<line x1="934.5" y1="323.3" x2="937.5" y2="323.3" stroke="#444" stroke-width="1"/>
<text x="937.80" y="325.90" font-size="8.2" fill="#222" textLength="27.60" lengthAdjust="spacingAndGlyphs" >3559.70</text>
<line x1="934.5" y1="342.2" x2="937.5" y2="342.2" stroke="#444" stroke-width="1"/>
<text x="937.80" y="344.76" font-size="8.2" fill="#222" textLength="27.60" lengthAdjust="spacingAndGlyphs" >3546.55</text>
<line x1="934.5" y1="361.0" x2="937.5" y2="361.0" stroke="#444" stroke-width="1"/>
<text x="937.80" y="363.62" font-size="8.2" fill="#222" textLength="27.60" lengthAdjust="spacingAndGlyphs" >3533.40</text>
<line x1="934.5" y1="379.9" x2="937.5" y2="379.9" stroke="#444" stroke-width="1"/>
<text x="937.80" y="382.48" font-size="8.2" fill="#222" textLength="27.60" lengthAdjust="spacingAndGlyphs" >3520.25</text>
<rect x="936" y="46.1" width="31" height="8" fill="#dc143c"/>
<text x="937.80" y="52.70" font-size="8.2" fill="#fff" textLength="27.60" lengthAdjust="spacingAndGlyphs" >3750.14</text>
<rect x="936" y="56.1" width="31" height="8" fill="#c0c0c0"/>
<text x="937.80" y="62.70" font-size="8.2" fill="#fff" textLength="27.60" lengthAdjust="spacingAndGlyphs" >3743.07</text>
<rect x="936" y="75.0" width="31" height="8" fill="#000"/>
<text x="937.80" y="81.60" font-size="8.2" fill="#fff" textLength="27.60" lengthAdjust="spacingAndGlyphs" >3730.00</text>
<rect x="936" y="117.3" width="31" height="8" fill="#dc143c"/>
<text x="937.80" y="123.90" font-size="8.2" fill="#fff" textLength="27.60" lengthAdjust="spacingAndGlyphs" >3700.47</text>
<rect x="936" y="211.2" width="31" height="8" fill="#dc143c"/>
<text x="937.80" y="217.80" font-size="8.2" fill="#fff" textLength="27.60" lengthAdjust="spacingAndGlyphs" >3635.00</text>
<rect x="936" y="240.0" width="31" height="8" fill="#dc143c"/>
<text x="937.80" y="246.60" font-size="8.2" fill="#fff" textLength="27.60" lengthAdjust="spacingAndGlyphs" >3615.00</text>
<rect x="936" y="303.4" width="31" height="8" fill="#dc143c"/>
<text x="937.80" y="310.00" font-size="8.2" fill="#fff" textLength="27.60" lengthAdjust="spacingAndGlyphs" >3570.64</text>
<rect x="936" y="362.9" width="31" height="8" fill="#dc143c"/>
<text x="937.80" y="369.50" font-size="8.2" fill="#fff" textLength="27.60" lengthAdjust="spacingAndGlyphs" >3529.40</text>
<g clip-path="url(#macd)">
<rect x="13.50" y="441.50" width="2.2" height="7.00" fill="#999"/>
<rect x="18.21" y="441.50" width="2.2" height="7.00" fill="#999"/>
<rect x="22.92" y="445.00" width="2.2" height="3.50" fill="#999"/>
<rect x="27.63" y="446.80" width="2.2" height="1.70" fill="#999"/>
<rect x="32.44" y="448.00" width="2" height="1" fill="#a8a8a8"/>
<rect x="37.16" y="448.00" width="2" height="1" fill="#a8a8a8"/>
<rect x="41.87" y="448.00" width="2" height="1" fill="#a8a8a8"/>
<rect x="46.58" y="448.00" width="2" height="1" fill="#a8a8a8"/>
<rect x="51.29" y="448.00" width="2" height="1" fill="#a8a8a8"/>
<rect x="56.00" y="448.00" width="2" height="1" fill="#a8a8a8"/>
<rect x="60.61" y="447.30" width="2.2" height="1.20" fill="#999"/>
<rect x="65.32" y="445.00" width="2.2" height="3.50" fill="#999"/>
<rect x="70.03" y="445.60" width="2.2" height="2.90" fill="#999"/>
<rect x="74.84" y="448.00" width="2" height="1" fill="#a8a8a8"/>
<rect x="79.45" y="448.50" width="2.2" height="1.00" fill="#999"/>
<rect x="84.17" y="448.50" width="2.2" height="2.90" fill="#999"/>
<rect x="88.88" y="448.50" width="2.2" height="9.30" fill="#999"/>
<rect x="93.59" y="448.50" width="2.2" height="10.50" fill="#999"/>
<rect x="98.30" y="448.50" width="2.2" height="9.90" fill="#999"/>
<rect x="103.01" y="448.50" width="2.2" height="7.00" fill="#999"/>
<rect x="107.72" y="448.50" width="2.2" height="4.00" fill="#999"/>
<rect x="112.53" y="448.00" width="2" height="1" fill="#a8a8a8"/>
<rect x="117.24" y="448.00" width="2" height="1" fill="#a8a8a8"/>
<rect x="121.95" y="448.00" width="2" height="1" fill="#a8a8a8"/>
<rect x="126.66" y="448.00" width="2" height="1" fill="#a8a8a8"/>
<rect x="131.38" y="448.00" width="2" height="1" fill="#a8a8a8"/>
<rect x="135.99" y="448.50" width="2.2" height="1.50" fill="#999"/>
<rect x="140.80" y="448.00" width="2" height="1" fill="#a8a8a8"/>
<rect x="145.51" y="448.00" width="2" height="1" fill="#a8a8a8"/>
<rect x="150.22" y="448.00" width="2" height="1" fill="#a8a8a8"/>
<rect x="154.93" y="448.00" width="2" height="1" fill="#a8a8a8"/>
<rect x="159.64" y="448.00" width="2" height="1" fill="#a8a8a8"/>
<rect x="164.35" y="448.00" width="2" height="1" fill="#a8a8a8"/>
<rect x="168.96" y="445.50" width="2.2" height="3.00" fill="#999"/>
<rect x="173.67" y="441.90" width="2.2" height="6.60" fill="#999"/>
<rect x="178.39" y="440.30" width="2.2" height="8.20" fill="#999"/>
<rect x="183.10" y="441.90" width="2.2" height="6.60" fill="#999"/>
<rect x="187.81" y="446.20" width="2.2" height="2.30" fill="#999"/>
<rect x="192.62" y="448.00" width="2" height="1" fill="#a8a8a8"/>
<rect x="197.33" y="448.00" width="2" height="1" fill="#a8a8a8"/>
<rect x="202.04" y="448.00" width="2" height="1" fill="#a8a8a8"/>
<rect x="206.65" y="448.50" width="2.2" height="3.00" fill="#999"/>
<rect x="211.36" y="448.50" width="2.2" height="1.00" fill="#999"/>
<rect x="216.17" y="448.00" width="2" height="1" fill="#a8a8a8"/>
<rect x="220.78" y="445.50" width="2.2" height="3.00" fill="#999"/>
<rect x="225.50" y="443.80" width="2.2" height="4.70" fill="#999"/>
<rect x="230.21" y="442.10" width="2.2" height="6.40" fill="#999"/>
<rect x="234.92" y="442.70" width="2.2" height="5.80" fill="#999"/>
<rect x="239.63" y="445.50" width="2.2" height="3.00" fill="#999"/>
<rect x="244.44" y="448.00" width="2" height="1" fill="#a8a8a8"/>
<rect x="249.05" y="448.50" width="2.2" height="1.50" fill="#999"/>
<rect x="253.76" y="448.50" width="2.2" height="1.50" fill="#999"/>
<rect x="258.57" y="448.00" width="2" height="1" fill="#a8a8a8"/>
<rect x="263.18" y="447.70" width="2.2" height="0.80" fill="#999"/>
<rect x="267.99" y="448.00" width="2" height="1" fill="#a8a8a8"/>
<rect x="272.61" y="448.50" width="2.2" height="0.80" fill="#999"/>
<rect x="277.32" y="448.50" width="2.2" height="1.00" fill="#999"/>
<rect x="282.03" y="448.50" width="2.2" height="2.50" fill="#999"/>
<rect x="286.74" y="448.50" width="2.2" height="3.00" fill="#999"/>
<rect x="291.45" y="448.50" width="2.2" height="3.50" fill="#999"/>
<rect x="296.16" y="448.50" width="2.2" height="4.70" fill="#999"/>
<rect x="300.87" y="448.50" width="2.2" height="6.80" fill="#999"/>
<rect x="305.58" y="448.50" width="2.2" height="5.30" fill="#999"/>
<rect x="310.29" y="448.50" width="2.2" height="6.80" fill="#999"/>
<rect x="315.00" y="448.50" width="2.2" height="3.50" fill="#999"/>
<rect x="319.82" y="448.00" width="2" height="1" fill="#a8a8a8"/>
<rect x="324.53" y="448.00" width="2" height="1" fill="#a8a8a8"/>
<rect x="329.24" y="448.00" width="2" height="1" fill="#a8a8a8"/>
<rect x="333.85" y="447.30" width="2.2" height="1.20" fill="#999"/>
<rect x="338.66" y="448.00" width="2" height="1" fill="#a8a8a8"/>
<rect x="343.37" y="448.00" width="2" height="1" fill="#a8a8a8"/>
<rect x="347.98" y="448.50" width="2.2" height="1.00" fill="#999"/>
<rect x="352.69" y="448.50" width="2.2" height="1.00" fill="#999"/>
<rect x="357.40" y="448.50" width="2.2" height="1.50" fill="#999"/>
<rect x="362.11" y="448.50" width="2.2" height="1.50" fill="#999"/>
<rect x="366.83" y="448.50" width="2.2" height="1.00" fill="#999"/>
<rect x="371.54" y="448.50" width="2.2" height="1.50" fill="#999"/>
<rect x="376.25" y="448.50" width="2.2" height="2.00" fill="#999"/>
<rect x="380.96" y="448.50" width="2.2" height="2.00" fill="#999"/>
<rect x="385.67" y="448.50" width="2.2" height="2.50" fill="#999"/>
<rect x="390.38" y="448.50" width="2.2" height="3.50" fill="#999"/>
<rect x="395.09" y="448.50" width="2.2" height="2.00" fill="#999"/>
<rect x="399.90" y="448.00" width="2" height="1" fill="#a8a8a8"/>
<rect x="404.61" y="448.00" width="2" height="1" fill="#a8a8a8"/>
<rect x="409.32" y="448.00" width="2" height="1" fill="#a8a8a8"/>
<rect x="414.04" y="448.00" width="2" height="1" fill="#a8a8a8"/>
<rect x="418.75" y="448.00" width="2" height="1" fill="#a8a8a8"/>
<rect x="423.36" y="447.50" width="2.2" height="1.00" fill="#999"/>
<rect x="428.07" y="447.00" width="2.2" height="1.50" fill="#999"/>
<rect x="432.78" y="445.00" width="2.2" height="3.50" fill="#999"/>
<rect x="437.49" y="445.00" width="2.2" height="3.50" fill="#999"/>
<rect x="442.30" y="448.00" width="2" height="1" fill="#a8a8a8"/>
<rect x="447.01" y="448.00" width="2" height="1" fill="#a8a8a8"/>
<rect x="451.72" y="448.00" width="2" height="1" fill="#a8a8a8"/>
<rect x="456.43" y="448.00" width="2" height="1" fill="#a8a8a8"/>
<rect x="461.15" y="448.00" width="2" height="1" fill="#a8a8a8"/>
<rect x="465.86" y="448.00" width="2" height="1" fill="#a8a8a8"/>
<rect x="470.57" y="448.00" width="2" height="1" fill="#a8a8a8"/>
<rect x="475.18" y="448.50" width="2.2" height="1.00" fill="#999"/>
<rect x="479.89" y="448.50" width="2.2" height="2.00" fill="#999"/>
<rect x="484.60" y="448.50" width="2.2" height="1.50" fill="#999"/>
<rect x="489.41" y="448.00" width="2" height="1" fill="#a8a8a8"/>
<rect x="494.12" y="448.00" width="2" height="1" fill="#a8a8a8"/>
<rect x="498.83" y="448.00" width="2" height="1" fill="#a8a8a8"/>
<rect x="503.54" y="448.00" width="2" height="1" fill="#a8a8a8"/>
<rect x="508.16" y="447.50" width="2.2" height="1.00" fill="#999"/>
<rect x="512.87" y="445.90" width="2.2" height="2.60" fill="#999"/>
<rect x="517.58" y="442.10" width="2.2" height="6.40" fill="#999"/>
<rect x="522.29" y="441.50" width="2.2" height="7.00" fill="#999"/>
<rect x="527.00" y="443.00" width="2.2" height="5.50" fill="#999"/>
<rect x="531.71" y="445.00" width="2.2" height="3.50" fill="#999"/>
<rect x="536.42" y="446.00" width="2.2" height="2.50" fill="#999"/>
<rect x="541.23" y="448.00" width="2" height="1" fill="#a8a8a8"/>
<rect x="545.94" y="448.00" width="2" height="1" fill="#a8a8a8"/>
<rect x="550.65" y="448.00" width="2" height="1" fill="#a8a8a8"/>
<rect x="555.37" y="448.00" width="2" height="1" fill="#a8a8a8"/>
<rect x="560.08" y="448.00" width="2" height="1" fill="#a8a8a8"/>
<rect x="564.79" y="448.00" width="2" height="1" fill="#a8a8a8"/>
<rect x="569.40" y="448.50" width="2.2" height="1.00" fill="#999"/>
<rect x="574.11" y="448.50" width="2.2" height="1.00" fill="#999"/>
<rect x="578.82" y="448.50" width="2.2" height="1.00" fill="#999"/>
<rect x="583.53" y="448.50" width="2.2" height="1.00" fill="#999"/>
<rect x="588.34" y="448.00" width="2" height="1" fill="#a8a8a8"/>
<rect x="593.05" y="448.00" width="2" height="1" fill="#a8a8a8"/>
<rect x="597.66" y="448.50" width="2.2" height="1.50" fill="#999"/>
<rect x="602.38" y="448.50" width="2.2" height="2.50" fill="#999"/>
<rect x="607.09" y="448.50" width="2.2" height="3.00" fill="#999"/>
<rect x="611.80" y="448.50" width="2.2" height="4.50" fill="#999"/>
<rect x="616.51" y="448.50" width="2.2" height="5.50" fill="#999"/>
<rect x="621.22" y="448.50" width="2.2" height="1.00" fill="#999"/>
<rect x="626.03" y="448.00" width="2" height="1" fill="#a8a8a8"/>
<rect x="630.64" y="447.50" width="2.2" height="1.00" fill="#999"/>
<rect x="635.35" y="448.50" width="2.2" height="1.50" fill="#999"/>
<rect x="640.06" y="448.50" width="2.2" height="2.50" fill="#999"/>
<rect x="644.77" y="448.50" width="2.2" height="3.00" fill="#999"/>
<rect x="649.49" y="448.50" width="2.2" height="2.50" fill="#999"/>
<rect x="654.20" y="448.50" width="2.2" height="2.00" fill="#999"/>
<rect x="658.91" y="448.50" width="2.2" height="1.50" fill="#999"/>
<rect x="663.62" y="448.50" width="2.2" height="4.00" fill="#999"/>
<rect x="668.43" y="448.00" width="2" height="1" fill="#a8a8a8"/>
<rect x="673.14" y="448.00" width="2" height="1" fill="#a8a8a8"/>
<rect x="677.85" y="448.00" width="2" height="1" fill="#a8a8a8"/>
<rect x="682.46" y="448.50" width="2.2" height="1.00" fill="#999"/>
<rect x="687.17" y="448.50" width="2.2" height="1.50" fill="#999"/>
<rect x="691.88" y="448.50" width="2.2" height="1.50" fill="#999"/>
<rect x="696.70" y="448.00" width="2" height="1" fill="#a8a8a8"/>
<rect x="701.41" y="448.00" width="2" height="1" fill="#a8a8a8"/>
<rect x="706.12" y="448.00" width="2" height="1" fill="#a8a8a8"/>
<rect x="710.83" y="448.00" width="2" height="1" fill="#a8a8a8"/>
<rect x="715.44" y="447.00" width="2.2" height="1.50" fill="#999"/>
<rect x="720.15" y="447.00" width="2.2" height="1.50" fill="#999"/>
<rect x="724.86" y="447.00" width="2.2" height="1.50" fill="#999"/>
<rect x="729.57" y="447.50" width="2.2" height="1.00" fill="#999"/>
<rect x="734.38" y="448.00" width="2" height="1" fill="#a8a8a8"/>
<rect x="738.99" y="446.70" width="2.2" height="1.80" fill="#999"/>
<rect x="743.71" y="445.90" width="2.2" height="2.60" fill="#999"/>
<rect x="748.42" y="442.70" width="2.2" height="5.80" fill="#999"/>
<rect x="753.13" y="443.00" width="2.2" height="5.50" fill="#999"/>
<rect x="757.84" y="443.00" width="2.2" height="5.50" fill="#999"/>
<rect x="762.55" y="444.20" width="2.2" height="4.30" fill="#999"/>
<rect x="767.26" y="447.10" width="2.2" height="1.40" fill="#999"/>
<rect x="771.97" y="446.50" width="2.2" height="2.00" fill="#999"/>
<rect x="776.68" y="443.60" width="2.2" height="4.90" fill="#999"/>
<rect x="781.39" y="441.50" width="2.2" height="7.00" fill="#999"/>
<rect x="786.10" y="441.90" width="2.2" height="6.60" fill="#999"/>
<rect x="790.82" y="444.20" width="2.2" height="4.30" fill="#999"/>
<rect x="795.53" y="445.30" width="2.2" height="3.20" fill="#999"/>
<rect x="800.24" y="445.30" width="2.2" height="3.20" fill="#999"/>
<rect x="804.95" y="444.80" width="2.2" height="3.70" fill="#999"/>
<rect x="809.66" y="444.80" width="2.2" height="3.70" fill="#999"/>
<rect x="814.37" y="447.70" width="2.2" height="0.80" fill="#999"/>
<rect x="819.18" y="448.00" width="2" height="1" fill="#a8a8a8"/>
<rect x="823.89" y="448.00" width="2" height="1" fill="#a8a8a8"/>
<rect x="828.50" y="448.50" width="2.2" height="1.50" fill="#999"/>
<polyline points="13.5,420.7 21.7,415.4 31.0,409.9 40.0,409.5 46.2,410.2 56.7,411.3 67.2,410.2 78.0,409.5 88.2,410.2 97.5,419.5 105.0,424.8 110.8,429.4 116.7,430.6 128.3,432.1 140.0,433.3 151.7,434.1 161.0,434.4 169.2,434.1 177.3,430.0 186.7,424.2 196.0,420.1 201.9,420.1 207.0,421.3 217.5,422.4 225.7,420.7 235.0,414.8 246.7,410.2 258.3,410.8 270.0,411.6 281.7,412.7 291.0,416.0 295.0,417.2 306.7,424.2 320.7,432.1 330.0,433.3 341.7,431.2 353.3,432.3 365.0,435.3 376.7,438.8 388.3,442.8 400.5,447.5 407.5,448.1 419.2,446.9 427.3,445.8 436.7,442.8 446.0,440.3 460.0,440.3 469.3,440.7 478.7,442.3 485.0,444.0 492.0,444.9 499.0,446.3 508.3,446.6 515.3,444.6 523.5,439.3 534.0,431.8 545.7,428.3 557.3,426.7 566.7,426.5 576.0,427.7 580.0,428.2 592.5,430.9 604.9,434.6 617.4,441.2 627.3,444.3 636.0,446.2 648.5,448.7 660.9,453.1 670.0,455.3 679.9,455.3 687.4,456.2 694.9,457.8 703.6,460.3 711.1,461.5 719.8,459.3 729.7,455.8 739.7,452.8 747.2,449.9 754.6,445.3 763.3,439.1 775.0,433.8 786.7,427.4 798.3,421.0 810.0,415.8 819.3,413.4 826.3,413.4 829.3,414.6" fill="none" stroke="#ff4040" stroke-width="0.9" stroke-linejoin="round" />
<polyline points="13.5,412.5 17.0,410.2 28.0,408.5 38.6,409.6 45.0,411.3 52.6,413.1 59.0,410.8 61.3,410.2 70.0,408.5 80.0,409.6 84.7,412.0 88.2,416.0 91.7,421.8 96.3,427.1 102.2,430.0 110.8,431.2 122.5,431.4 128.3,432.6 137.7,435.6 143.5,434.7 151.7,432.9 156.3,434.7 164.5,436.4 169.2,430.6 175.0,424.8 184.3,418.3 190.2,420.1 196.0,420.4 201.9,420.1 208.2,424.4 215.2,421.8 225.7,416.0 235.0,408.4 240.8,408.4 246.7,410.2 253.7,413.1 264.2,410.2 270.0,411.9 278.2,413.4 287.5,418.3 296.9,423.0 302.0,428.3 312.5,434.4 318.3,433.3 327.7,432.6 334.7,430.0 341.7,431.2 351.0,433.3 360.3,437.0 369.7,438.8 379.0,442.8 390.7,448.7 395.8,449.3 401.7,447.7 413.3,446.9 425.0,445.4 432.0,441.7 438.4,438.8 443.7,440.5 448.3,439.6 455.3,440.3 467.0,440.3 474.0,442.3 481.0,446.3 490.8,446.1 495.5,447.3 502.5,446.9 509.5,445.2 514.2,440.5 520.0,434.1 528.2,430.6 537.5,427.1 543.3,428.8 551.5,426.5 559.7,425.9 566.7,427.1 572.5,429.4 580.0,430.0 592.5,431.9 604.9,438.1 617.4,448.1 631.1,443.1 636.0,449.3 644.8,453.1 654.7,451.8 659.7,453.7 665.0,459.3 670.0,455.5 677.4,452.8 683.7,457.4 692.4,460.3 702.3,462.0 709.8,460.5 717.3,456.5 724.8,454.6 732.2,452.8 736.0,453.3 744.7,446.6 752.2,440.6 762.2,434.4 771.5,434.1 773.8,432.7 786.7,420.4 794.8,418.7 810.0,411.4 814.7,413.8 821.7,413.8 829.3,417.5" fill="none" stroke="#4848ff" stroke-width="0.9" stroke-linejoin="round" />
</g>
<rect x="13" y="401.5" width="96" height="8.3" fill="#fff"/>
<g clip-path="url(#macdl)">
<text x="11.00" y="408.50" font-size="7.2" fill="#222" textLength="47.20" lengthAdjust="spacingAndGlyphs" >MACD(5,35,5)</text>
</g>
<text x="60.30" y="408.50" font-size="7.2" fill="#222" textLength="22.80" lengthAdjust="spacingAndGlyphs" >40.549</text>
<text x="85.60" y="408.50" font-size="7.2" fill="#222" textLength="22.90" lengthAdjust="spacingAndGlyphs" >43.808</text>
<line x1="934.5" y1="400.4" x2="937.5" y2="400.4" stroke="#444" stroke-width="1"/>
<text x="937.40" y="406.90" font-size="8.2" fill="#222" textLength="23.00" lengthAdjust="spacingAndGlyphs" >61.799</text>
<text x="937.50" y="466.50" font-size="8.2" fill="#222" textLength="25.50" lengthAdjust="spacingAndGlyphs" >-23.810</text>
<text x="15.50" y="476.80" font-size="7.9" fill="#222" textLength="31.80" lengthAdjust="spacingAndGlyphs" >Sep 2025</text>
<line x1="85.4" y1="467.5" x2="85.4" y2="470.5" stroke="#444" stroke-width="1"/>
<text x="84.70" y="476.80" font-size="7.9" fill="#222" textLength="40.40" lengthAdjust="spacingAndGlyphs" >4 Sep 02:00</text>
<line x1="160.7" y1="467.5" x2="160.7" y2="470.5" stroke="#444" stroke-width="1"/>
<text x="160.00" y="476.80" font-size="7.9" fill="#222" textLength="40.60" lengthAdjust="spacingAndGlyphs" >5 Sep 10:00</text>
<line x1="236.6" y1="467.5" x2="236.6" y2="470.5" stroke="#444" stroke-width="1"/>
<text x="235.90" y="476.80" font-size="7.9" fill="#222" textLength="40.60" lengthAdjust="spacingAndGlyphs" >8 Sep 18:00</text>
<line x1="311.6" y1="467.5" x2="311.6" y2="470.5" stroke="#444" stroke-width="1"/>
<text x="310.90" y="476.80" font-size="7.9" fill="#222" textLength="44.60" lengthAdjust="spacingAndGlyphs" >10 Sep 02:00</text>
<line x1="387.3" y1="467.5" x2="387.3" y2="470.5" stroke="#444" stroke-width="1"/>
<text x="386.60" y="476.80" font-size="7.9" fill="#222" textLength="44.60" lengthAdjust="spacingAndGlyphs" >11 Sep 10:00</text>
<line x1="462.5" y1="467.5" x2="462.5" y2="470.5" stroke="#444" stroke-width="1"/>
<text x="461.80" y="476.80" font-size="7.9" fill="#222" textLength="44.30" lengthAdjust="spacingAndGlyphs" >12 Sep 18:00</text>
<line x1="537.8" y1="467.5" x2="537.8" y2="470.5" stroke="#444" stroke-width="1"/>
<text x="537.10" y="476.80" font-size="7.9" fill="#222" textLength="44.60" lengthAdjust="spacingAndGlyphs" >16 Sep 02:00</text>
<line x1="612.7" y1="467.5" x2="612.7" y2="470.5" stroke="#444" stroke-width="1"/>
<text x="612.00" y="476.80" font-size="7.9" fill="#222" textLength="44.60" lengthAdjust="spacingAndGlyphs" >17 Sep 10:00</text>
<line x1="688.8" y1="467.5" x2="688.8" y2="470.5" stroke="#444" stroke-width="1"/>
<text x="688.10" y="476.80" font-size="7.9" fill="#222" textLength="44.60" lengthAdjust="spacingAndGlyphs" >18 Sep 18:00</text>
<line x1="763.7" y1="467.5" x2="763.7" y2="470.5" stroke="#444" stroke-width="1"/>
<text x="763.00" y="476.80" font-size="7.9" fill="#222" textLength="44.60" lengthAdjust="spacingAndGlyphs" >22 Sep 02:00</text>
<rect x="13.8" y="34.1" width="5.3" height="7.7" fill="#c02a2a"/>
<rect x="19.1" y="34.1" width="5.3" height="7.7" fill="#2a62d0"/>
<rect x="13.8" y="35.9" width="10.6" height="0.8" fill="#4a2040" opacity="0.45"/>
<rect x="13.8" y="39.0" width="10.6" height="0.9" fill="#2a1a40" opacity="0.6"/>
<rect x="29.7" y="34.3" width="2.3" height="7.5" fill="#c02a2a"/>
<rect x="32" y="36.5" width="1.8" height="5.3" fill="#c02a2a"/>
<rect x="38" y="34.3" width="2.2" height="7.5" fill="#2a62d0"/>
<rect x="36.1" y="37.2" width="1.9" height="4.6" fill="#2a62d0"/>
<rect x="30.6" y="38.2" width="2.8" height="3.2" fill="#501010"/>
<rect x="36.6" y="38.6" width="2.8" height="2.8" fill="#0a1a50"/>
<rect x="33.8" y="34.4" width="2.4" height="1.6" fill="#9a9a9a"/>
<text x="45.00" y="41.30" font-size="7.9" fill="#222" textLength="42.40" lengthAdjust="spacingAndGlyphs" >XAUUSD, H2:</text>
<text x="92.80" y="41.30" font-size="7.9" fill="#222" textLength="43.80" lengthAdjust="spacingAndGlyphs" >Gold US Dollar</text>
</svg>
</body></html>
